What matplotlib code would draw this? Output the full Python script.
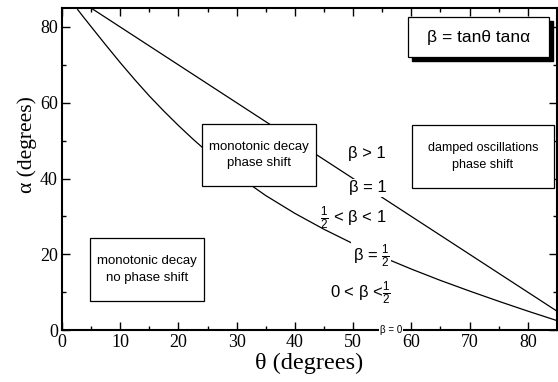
import matplotlib.pyplot as plt
from matplotlib.patches import Rectangle
from matplotlib.ticker import MultipleLocator

# curves (theta, alpha in degrees)
theta_beta1 = [5, 15, 25, 35, 45, 55, 65, 75, 85]
alpha_beta1 = [85, 75, 65, 55, 45, 35, 25, 15, 5]

theta_half = [2.7, 3.5, 5, 7.5, 10, 12.5, 15, 17.5, 20, 22.5, 25, 30, 35, 40,
              45, 50, 55, 60, 65, 70, 75, 80, 85]
alpha_half = [84.6, 83.0, 80.1, 75.3, 70.6, 66.1, 61.8, 57.8, 54.0, 50.4, 47.0,
              40.9, 35.5, 30.8, 26.6, 22.8, 19.3, 16.1, 13.1, 10.3, 7.6, 5.0, 2.5]

plt.rcParams['mathtext.fontset'] = 'custom'
plt.rcParams['mathtext.rm'] = 'Liberation Sans'
plt.rcParams['mathtext.it'] = 'Liberation Sans:italic'

serif = 'Liberation Serif'
sans = 'Liberation Sans'

fig = plt.figure(figsize=(5.58, 3.82), dpi=100)
ax = fig.add_axes([0.111, 0.136, 0.887, 0.843])

ax.plot(theta_beta1, alpha_beta1, color='black', lw=0.9, zorder=1)
ax.plot(theta_half, alpha_half, color='black', lw=0.9, zorder=1)

ax.set_xlim(0, 85)
ax.set_ylim(0, 85)
ax.xaxis.set_major_locator(MultipleLocator(10))
ax.xaxis.set_minor_locator(MultipleLocator(5))
ax.yaxis.set_major_locator(MultipleLocator(20))
ax.yaxis.set_minor_locator(MultipleLocator(10))
ax.tick_params(which='both', direction='in', top=True, right=True, width=1)
ax.tick_params(which='major', length=6, labelsize=13, pad=3)
ax.tick_params(which='minor', length=3)
for lab in ax.get_xticklabels() + ax.get_yticklabels():
    lab.set_fontfamily(serif)
for s in ax.spines.values():
    s.set_linewidth(1.5)

ax.set_xlabel('θ (degrees)', fontfamily=serif, fontsize=17.5)
ax.set_ylabel('α (degrees)', fontfamily=serif, fontsize=15.5)
ax.xaxis.set_label_coords(0.5, -0.072)
ax.yaxis.set_label_coords(-0.05, 0.575)


def box(x0, y0, x1, y1, text, size=9.5, shadow=False):
    if shadow:
        ax.add_patch(Rectangle((x0 + 0.008, y0 - 0.012), x1 - x0, y1 - y0,
                               transform=ax.transAxes, fc='black', ec='black',
                               zorder=3, clip_on=False))
    ax.add_patch(Rectangle((x0, y0), x1 - x0, y1 - y0, transform=ax.transAxes,
                           fc='white', ec='black', lw=0.9, zorder=4))
    ax.text((x0 + x1) / 2, (y0 + y1) / 2, text, transform=ax.transAxes,
            ha='center', va='center', fontsize=size, fontfamily=sans,
            linespacing=1.5, zorder=5)


box(0.283, 0.447, 0.513, 0.640, 'monotonic decay\nphase shift')
box(0.707, 0.441, 0.994, 0.637, 'damped oscillations\nphase shift', size=9)
box(0.057, 0.090, 0.287, 0.286, 'monotonic decay\nno phase shift')
box(0.699, 0.848, 0.984, 0.972, 'β = tanθ tanα', size=12.5, shadow=True)

wb = dict(fc='white', ec='none', pad=1)
lab_kw = dict(ha='center', va='center', fontfamily=sans, fontsize=12, zorder=2)
ax.text(52.4, 46.7, 'β > 1', **lab_kw)
ax.text(52.5, 37.5, 'β = 1', bbox=wb, **lab_kw)
ax.text(50.1, 29.5, r'$\frac{1}{2}$ < β < 1', **lab_kw)
ax.text(53.1, 19.5, r'β = $\frac{1}{2}$', bbox=wb, **lab_kw)
ax.text(51.3, 9.8, r'0 < β <$\frac{1}{2}$', **lab_kw)
ax.text(56.5, 0, 'β = 0', ha='center', va='center', fontfamily=sans,
        fontsize=7, bbox=dict(fc='white', ec='none', pad=0.5), zorder=6,
        clip_on=False)

fig.savefig('out.png', dpi=100)
